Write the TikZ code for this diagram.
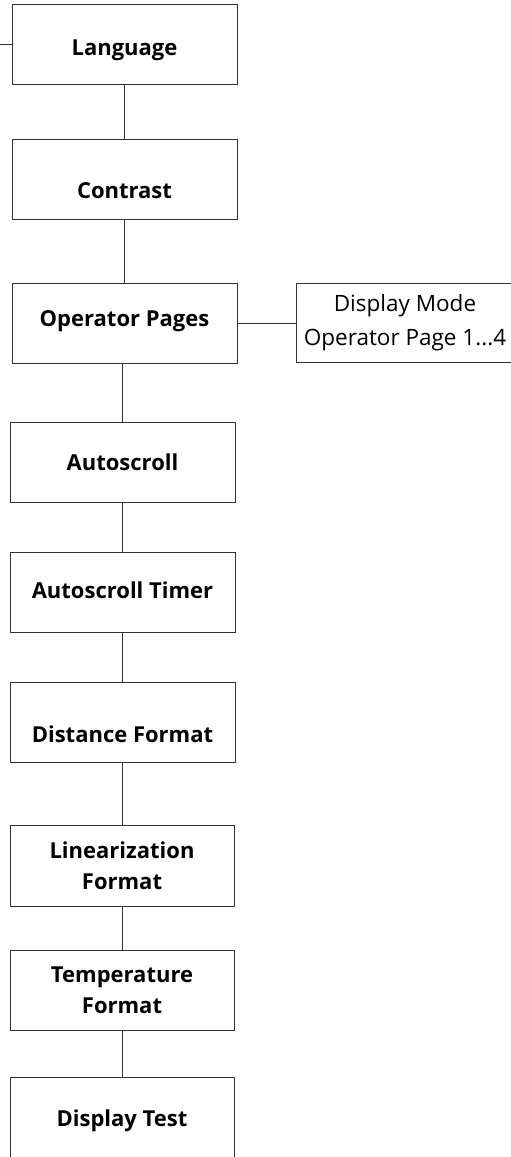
\documentclass[tikz,border=0pt]{standalone}
\usepackage{fontspec}
\setmainfont{Open Sans}

\tikzset{
	caja/.style={draw=black!80, line width=0.8pt, inner sep=0pt,
		minimum width=225pt, minimum height=80pt, align=center,
		font=\fontsize{22}{31}\selectfont\bfseries},
	bajar/.style={text height=#1, text depth=0pt},
	hoja/.style={draw=black!80, line width=0.8pt, inner sep=0pt,
		minimum width=218pt, minimum height=79pt, align=center,
		font=\fontsize{22.5}{34}\selectfont},
	linea/.style={draw=black!80, line width=0.8pt}
}

\begin{document}
\begin{tikzpicture}[x=1pt, y=-1pt]
		\useasboundingbox (0,0) rectangle (511,1157);
		
		% Cajas del menu
		\node[caja, bajar=22pt] (lang) at (124.5, 44) {Language};
		\node[caja, bajar=38pt] (contrast) at (124.5, 179) {Contrast};
		\node[caja, bajar=7pt] (oppages) at (124.5, 323) {Operator Pages};
		\node[caja, bajar=16pt] (autoscroll) at (122.5, 462) {Autoscroll};
		\node[caja, bajar=12pt] (astimer) at (122.5, 592.5) {Autoscroll Timer};
		\node[caja, bajar=41pt] (distfmt) at (122.5, 722) {Distance Format};
		\node[caja, minimum width=224pt, minimum height=81pt] (linfmt) at (122, 865.5) {Linearization\\Format};
		\node[caja, minimum width=224pt] (tempfmt) at (122, 990) {Temperature\\Format};
		\node[caja, bajar=16pt, minimum width=224pt, minimum height=82pt] (disptest) at (122, 1118) {Display Test};
		
		% Submenu de Operator Pages
		\node[hoja] (dispmode) at (405, 323) {Display Mode\\Operator Page 1...4};
		
		% Entrada por la izquierda
		\coordinate (entrada) at (-5, 44);
		
		% Uniones
		\draw[linea] (entrada) -- (lang.west);
		\draw[linea] (lang.south) -- (lang.south |- contrast.north);
		\draw[linea] (contrast.south) -- (contrast.south |- oppages.north);
		\draw[linea] (autoscroll.north) -- (autoscroll.north |- oppages.south);
		\draw[linea] (autoscroll.south) -- (astimer.north);
		\draw[linea] (astimer.south) -- (distfmt.north);
		\draw[linea] (linfmt.north) -- (linfmt.north |- distfmt.south);
		\draw[linea] (linfmt.south) -- (tempfmt.north);
		\draw[linea] (tempfmt.south) -- (disptest.north);
		\draw[linea] (oppages.east) -- (dispmode.west);
	\end{tikzpicture}
\end{document}
